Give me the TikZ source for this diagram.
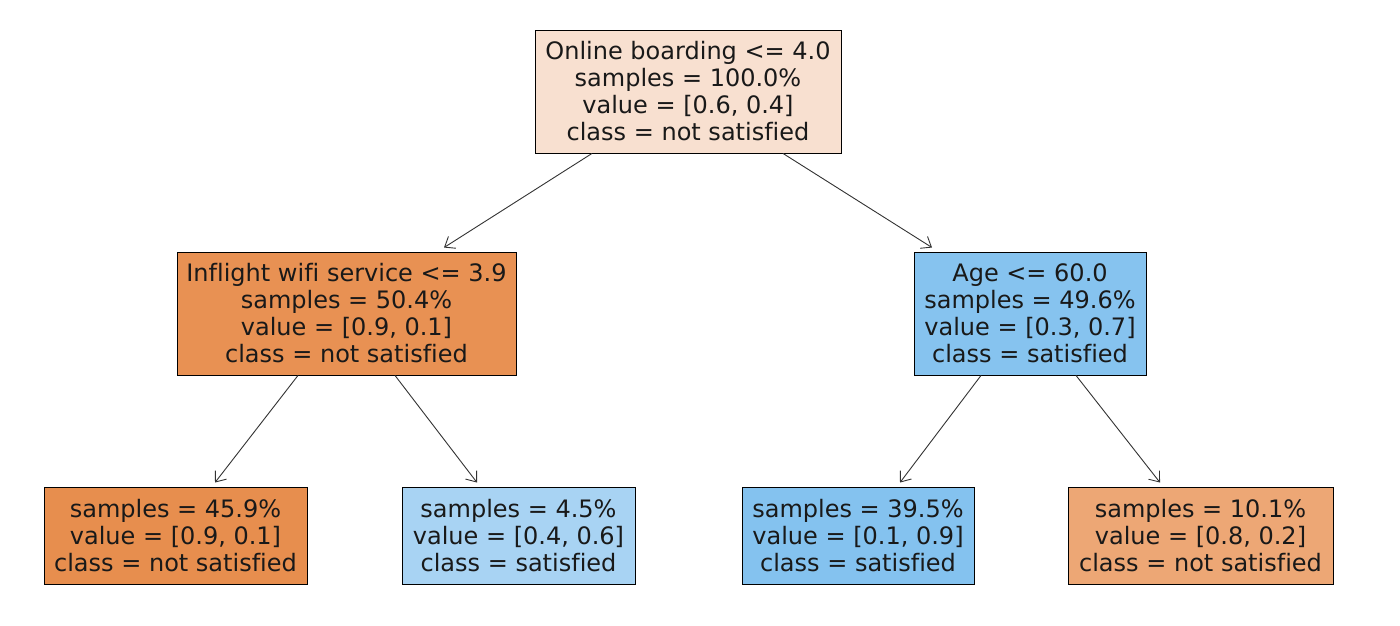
\documentclass[tikz,border=0pt]{standalone}
\usepackage{fontspec}
\setmainfont{DejaVu Sans}[Ligatures={NoCommon}]
\usetikzlibrary{arrows.meta}
\definecolor{cRoot}{HTML}{F8E0D0}
\definecolor{cInf}{HTML}{E89153}
\definecolor{cLeafA}{HTML}{E78E4E}
\definecolor{cAge}{HTML}{86C3EF}
\definecolor{cLeafB}{HTML}{A8D3F3}
\definecolor{cLeafC}{HTML}{84C2EF}
\definecolor{cLeafD}{HTML}{EDA775}
\tikzset{
  treebox/.style={draw=black, line width=0.9pt, inner sep=0pt, align=center,
    font=\fontsize{24}{27}\selectfont, text=black!90},
  inner4/.style={treebox, minimum height=123pt},
  leaf3/.style={treebox, minimum height=97pt},
  arr/.style={draw=black!80, line width=0.9pt, -{Straight Barb[length=9pt,width=14pt]}}
}
\begin{document}
\begin{tikzpicture}[x=1pt,y=-1pt]
\useasboundingbox[fill=white] (0,0) rectangle (1400,626);
\node[inner4, fill=cRoot, minimum width=306pt] (root) at (688,91.5)
  {Online boarding <= 4.0\\samples = 100.0\%\\value = [0.6, 0.4]\\class = not satisfied};
\node[inner4, fill=cInf, minimum width=339pt] (inf) at (346.5,313.5)
  {Inflight wifi service <= 3.9\\samples = 50.4\%\\value = [0.9, 0.1]\\class = not satisfied};
\node[inner4, fill=cAge, minimum width=232pt] (age) at (1030,313.5)
  {Age <= 60.0\\samples = 49.6\%\\value = [0.3, 0.7]\\class = satisfied};
\node[leaf3, fill=cLeafA, minimum width=263pt] (l1) at (175.5,535.5)
  {samples = 45.9\%\\value = [0.9, 0.1]\\class = not satisfied};
\node[leaf3, fill=cLeafB, minimum width=233pt] (l2) at (518.5,535.5)
  {samples = 4.5\%\\value = [0.4, 0.6]\\class = satisfied};
\node[leaf3, fill=cLeafC, minimum width=232pt] (l3) at (858,535.5)
  {samples = 39.5\%\\value = [0.1, 0.9]\\class = satisfied};
\node[leaf3, fill=cLeafD, minimum width=265pt] (l4) at (1200.5,535.5)
  {samples = 10.1\%\\value = [0.8, 0.2]\\class = not satisfied};
\draw[arr] ([xshift=-96pt]root.south) -- ([xshift=97.5pt,yshift=4pt]inf.north);
\draw[arr] ([xshift=95pt]root.south) -- ([xshift=-98pt,yshift=4pt]age.north);
\draw[arr] ([xshift=-48.5pt]inf.south) -- ([xshift=39.5pt,yshift=4pt]l1.north);
\draw[arr] ([xshift=48.5pt]inf.south) -- ([xshift=-41.5pt,yshift=4pt]l2.north);
\draw[arr] ([xshift=-49pt]age.south) -- ([xshift=42pt,yshift=4pt]l3.north);
\draw[arr] ([xshift=46pt]age.south) -- ([xshift=-40.5pt,yshift=4pt]l4.north);
\end{tikzpicture}
\end{document}
